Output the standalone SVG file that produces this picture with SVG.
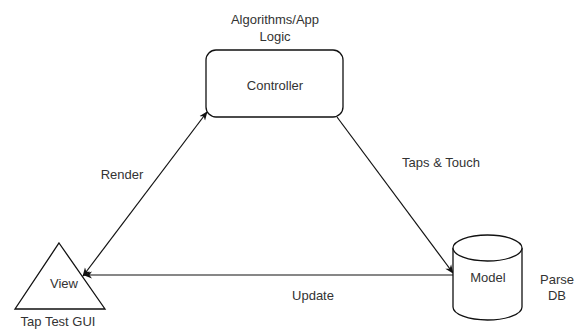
<svg xmlns="http://www.w3.org/2000/svg" width="583" height="329" viewBox="0 0 583 329">
  <defs>
    <marker id="arrow" viewBox="0 0 10 10" refX="9" refY="5" markerWidth="9" markerHeight="9" orient="auto-start-reverse" markerUnits="userSpaceOnUse">
      <path d="M0,1 L10,5 L0,9 L3,5 Z" fill="#111"/>
    </marker>
    <style>
      .shape { fill: #fff; stroke: #111; stroke-width: 1.3; }
      .edge { fill: none; stroke: #111; stroke-width: 1.2; }
      text { font-family: "Liberation Sans", Arial, sans-serif; font-size: 13px; fill: #333; text-anchor: middle; }
    </style>
  </defs>
  <rect width="583" height="329" fill="#fff"/>

  <g id="connectors">
    <!-- Render: View <-> Controller -->
    <line class="edge" x1="83" y1="276" x2="207" y2="112" marker-start="url(#arrow)" marker-end="url(#arrow)"/>
    <!-- Taps & Touch: Controller -> Model -->
    <line class="edge" x1="337" y1="117" x2="453" y2="273" marker-end="url(#arrow)"/>
    <!-- Update: Model -> View -->
    <line class="edge" x1="453" y1="275" x2="84" y2="275" marker-end="url(#arrow)"/>
    <text x="122" y="179">Render</text>
    <text x="441" y="167">Taps &amp; Touch</text>
    <text x="313" y="300">Update</text>
  </g>

  <g id="controller">
    <rect class="shape" x="206" y="50" width="137" height="67" rx="10"/>
    <text x="275" y="90">Controller</text>
    <text x="275" y="24">Algorithms/App</text>
    <text x="275" y="41">Logic</text>
  </g>

  <g id="view">
    <path class="shape" d="M59,243 L105,309 L15,309 Z"/>
    <text x="64" y="288">View</text>
    <text x="58" y="326">Tap Test GUI</text>
  </g>

  <g id="model">
    <path class="shape" d="M453,248 A34.5,13 0 0 1 522,248 L522,307 A34.5,13 0 0 1 453,307 Z"/>
    <path class="shape" d="M453,248 A34.5,13 0 0 0 522,248" fill="none"/>
    <text x="488" y="282">Model</text>
    <text x="557" y="284">Parse</text>
    <text x="557" y="300">DB</text>
  </g>
</svg>
